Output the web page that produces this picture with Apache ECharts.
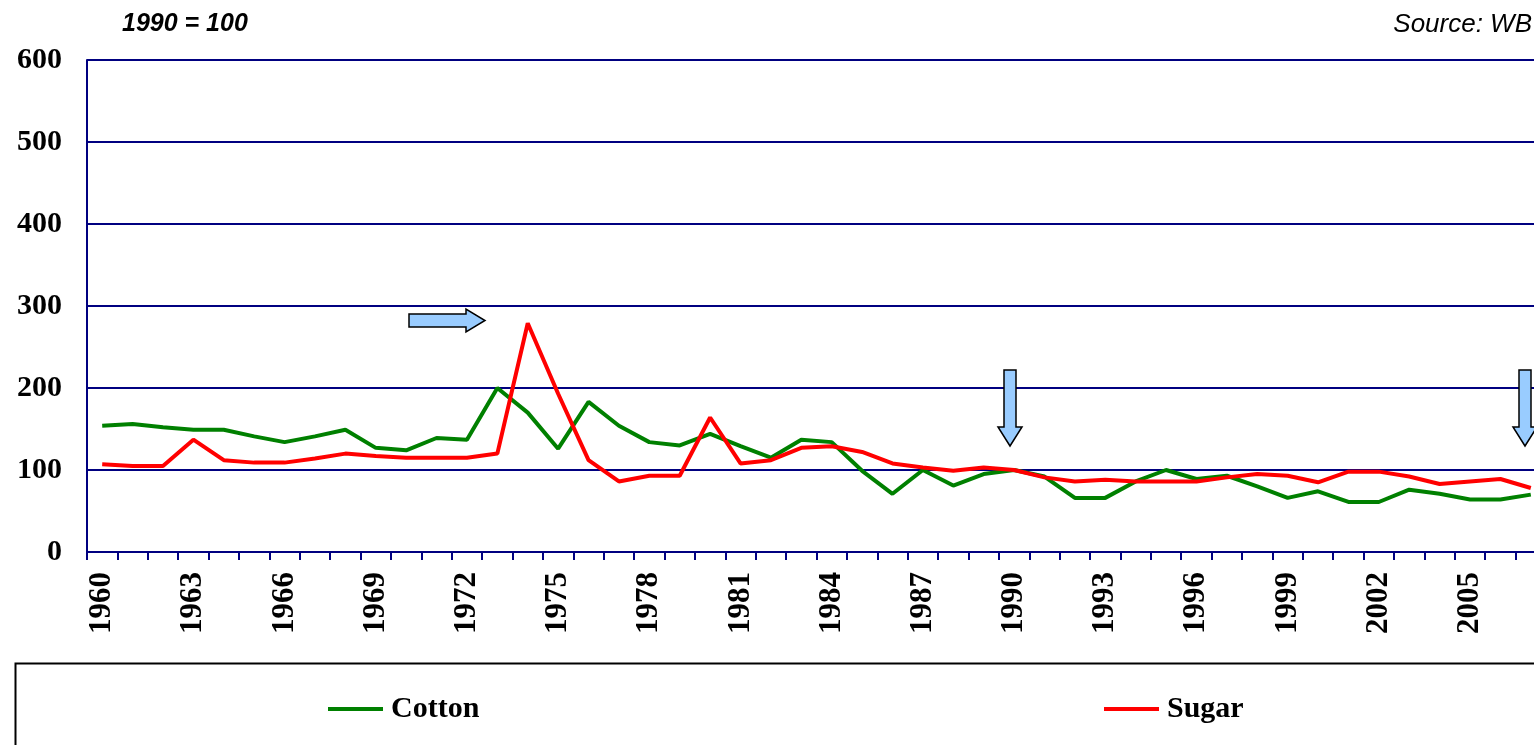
<!DOCTYPE html>
<html>
<head>
<meta charset="utf-8">
<script src="https://cdn.jsdelivr.net/npm/echarts@6/dist/echarts.min.js"></script>
<style>
  html, body { margin: 0; padding: 0; background: #fff; overflow: hidden; }
  #chart { width: 1560px; height: 745px; }
</style>
</head>
<body>
<div id="chart"></div>
<script>
// Index values, 1990 = 100
const years = [
  '1960', '1961', '1962', '1963', '1964', '1965', '1966', '1967', '1968', '1969',
  '1970', '1971', '1972', '1973', '1974', '1975', '1976', '1977', '1978', '1979',
  '1980', '1981', '1982', '1983', '1984', '1985', '1986', '1987', '1988', '1989',
  '1990', '1991', '1992', '1993', '1994', '1995', '1996', '1997', '1998', '1999',
  '2000', '2001', '2002', '2003', '2004', '2005', '2006', '2007'
];

const cotton = [
  154, 156, 152, 149, 149, 141, 134, 141, 149, 127,
  124, 139, 137, 200, 170, 126, 183, 154, 134, 130,
  144, 129, 115, 137, 134, 99, 71, 100, 81, 95,
  100, 92, 66, 66, 86, 100, 89, 93, 80, 66,
  74, 61, 61, 76, 71, 64, 64, 70
];

const sugar = [
  107, 105, 105, 137, 112, 109, 109, 114, 120, 117,
  115, 115, 115, 120, 279, 193, 112, 86, 93, 93,
  164, 108, 112, 127, 129, 122, 108, 103, 99, 103,
  100, 91, 86, 88, 86, 86, 86, 91, 95, 93,
  85, 98, 98, 92, 83, 86, 89, 78
];

const navy = '#000080';
const serif = '"Liberation Serif", "Times New Roman", serif';
const sans = '"Liberation Sans", Arial, sans-serif';

// Builds one of the block arrows drawn over the plot
function buildArrow(points) {
  return {
    type: 'polygon',
    z: 100,
    shape: { points: points },
    style: { fill: '#99ccff', stroke: '#000', lineWidth: 1.5 }
  };
}

// Builds a legend entry placed on its own
function buildLegendItem(name, left) {
  return {
    data: [name], left: left, top: 694, icon: 'rect', padding: 0,
    itemWidth: 55, itemHeight: 4, itemGap: 0,
    textStyle: { fontFamily: serif, fontSize: 30, fontWeight: 'bold', color: '#000', padding: [0, 0, 0, 3] }
  };
}

const chart = echarts.init(document.getElementById('chart'));

chart.setOption({
  animation: false,
  title: [
    {
      text: '1990 = 100', left: 122, top: 12, padding: 0,
      textStyle: { fontFamily: sans, fontSize: 25, fontWeight: 'bold', fontStyle: 'italic', color: '#000' }
    },
    {
      text: 'Source: WB', right: 28, top: 12, padding: 0,
      textStyle: { fontFamily: sans, fontSize: 26, fontWeight: 'normal', fontStyle: 'italic', color: '#000' }
    }
  ],
  legend: [
    buildLegendItem('Cotton', 328),
    buildLegendItem('Sugar', 1104)
  ],
  grid: { left: 87, right: 14, top: 60, bottom: 193 },
  xAxis: {
    type: 'category',
    data: years,
    boundaryGap: true,
    axisLine: { lineStyle: { color: navy, width: 2 } },
    axisTick: { show: true, interval: 0, length: 8, lineStyle: { color: navy, width: 2 } },
    axisLabel: {
      interval: 2, rotate: 90, margin: 20,
      fontFamily: serif, fontSize: 31, fontWeight: 'bold', color: '#000'
    },
    splitLine: { show: false }
  },
  yAxis: {
    type: 'value',
    min: 0, max: 600, interval: 100,
    axisLine: { show: true, lineStyle: { color: navy, width: 2 } },
    axisTick: { show: false },
    axisLabel: {
      margin: 25, padding: [6, 0, 0, 0],
      fontFamily: serif, fontSize: 30, fontWeight: 'bold', color: '#000'
    },
    splitLine: { show: true, lineStyle: { color: navy, width: 2 } }
  },
  series: [
    {
      name: 'Cotton', type: 'line', data: cotton, symbol: 'none',
      itemStyle: { color: '#008000' },
      lineStyle: { color: '#008000', width: 4 }
    },
    {
      name: 'Sugar', type: 'line', data: sugar, symbol: 'none',
      itemStyle: { color: '#ff0000' },
      lineStyle: { color: '#ff0000', width: 4 }
    }
  ],
  graphic: [
    // legend frame
    {
      type: 'rect', left: 13, top: 661, z: 0,
      shape: { width: 1600, height: 200 },
      style: { fill: 'none', stroke: '#000', lineWidth: 2 }
    },
    buildArrow([[409, 314], [466, 314], [466, 309], [485, 320.5], [466, 332], [466, 327], [409, 327]]),
    buildArrow([[1004, 370], [1016, 370], [1016, 427], [1022, 427], [1010, 446], [998, 427], [1004, 427]]),
    buildArrow([[1519, 370], [1531, 370], [1531, 427], [1537, 427], [1525, 446], [1513, 427], [1519, 427]])
  ]
});
</script>
</body>
</html>
